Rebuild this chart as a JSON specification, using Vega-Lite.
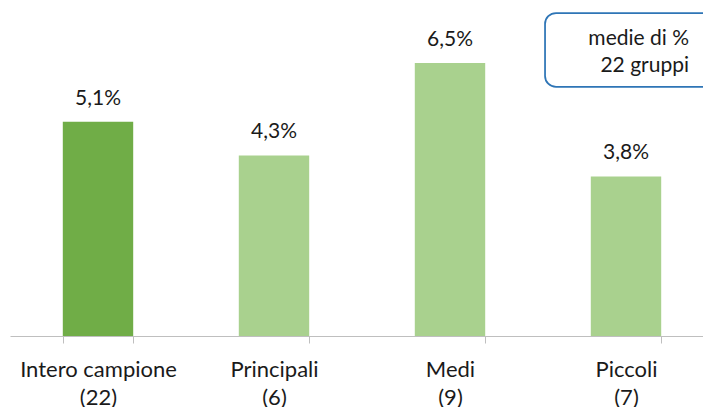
{
  "$schema": "https://vega.github.io/schema/vega-lite/v6.json",
  "width": 704,
  "height": 336,
  "autosize": {"type": "none"},
  "padding": {"left": 10, "top": 0, "right": 0, "bottom": 71},
  "background": "white",
  "config": {
    "view": {"stroke": null},
    "font": "Lato",
    "locale": {"number": {"decimal": ",", "thousands": ".", "grouping": [3], "currency": ["", " €"]}}
  },
  "datasets": {
    "bars": [
      {"cat": "Intero campione\n(22)", "value": 0.051, "tipo": "totale"},
      {"cat": "Principali\n(6)", "value": 0.043, "tipo": "gruppo"},
      {"cat": "Medi\n(9)", "value": 0.065, "tipo": "gruppo"},
      {"cat": "Piccoli\n(7)", "value": 0.038, "tipo": "gruppo"}
    ],
    "note": [
      {"x0": 3.04, "x1": 4.25, "xt": 3.858, "top": 0.0769, "bottom": 0.0593, "ty": 0.0693, "text": "medie di %\n22 gruppi"}
    ]
  },
  "resolve": {"scale": {"x": "independent"}},
  "layer": [
    {
      "layer": [
        {
          "data": {"name": "bars"},
          "mark": {"type": "bar"},
          "encoding": {
            "x": {
              "field": "cat", "type": "nominal", "sort": null,
              "scale": {"paddingInner": 0.6, "paddingOuter": 0.3},
              "axis": {
                "title": null, "labelAngle": 0,
                "labelExpr": "split(datum.label, '\\n')",
                "labelFontSize": 22, "labelColor": "#1a1a1a", "labelFont": "Lato",
                "labelLineHeight": 28, "labelBaseline": "alphabetic", "labelPadding": 33,
                "labelLimit": 0, "labelOverlap": false,
                "domainColor": "#BFBFBF", "tickColor": "#BFBFBF", "tickSize": 7,
                "tickBand": "extent", "domainWidth": 1, "tickWidth": 1
              }
            },
            "y": {
              "field": "value", "type": "quantitative",
              "scale": {"domain": [0, 0.08], "nice": false, "zero": true},
              "axis": null
            },
            "color": {
              "field": "tipo", "type": "nominal",
              "scale": {"domain": ["totale", "gruppo"], "range": ["#70AD47", "#A9D18E"]},
              "legend": null
            }
          }
        },
        {
          "data": {"name": "bars"},
          "mark": {"type": "text", "baseline": "alphabetic", "dy": -17, "fontSize": 21, "color": "#1a1a1a", "font": "Lato"},
          "encoding": {
            "x": {"field": "cat", "type": "nominal", "sort": null},
            "y": {"field": "value", "type": "quantitative"},
            "text": {"field": "value", "type": "quantitative", "format": ".1%"}
          }
        }
      ]
    },
    {
      "layer": [
        {
          "data": {"name": "note"},
          "mark": {"type": "rect", "fill": "white", "stroke": "#2E75B6", "strokeWidth": 1.75, "cornerRadius": 11},
          "encoding": {
            "x": {"field": "x0", "type": "quantitative", "scale": {"domain": [0, 4], "nice": false, "zero": true}, "axis": null},
            "x2": {"field": "x1"},
            "y": {"field": "top", "type": "quantitative"},
            "y2": {"field": "bottom"}
          }
        },
        {
          "data": {"name": "note"},
          "mark": {"type": "text", "fontSize": 21, "color": "#1a1a1a", "font": "Lato", "lineBreak": "\n", "lineHeight": 27, "align": "right", "baseline": "alphabetic"},
          "encoding": {
            "x": {"field": "xt", "type": "quantitative"},
            "y": {"field": "ty", "type": "quantitative"},
            "text": {"field": "text", "type": "nominal"}
          }
        }
      ]
    }
  ]
}
